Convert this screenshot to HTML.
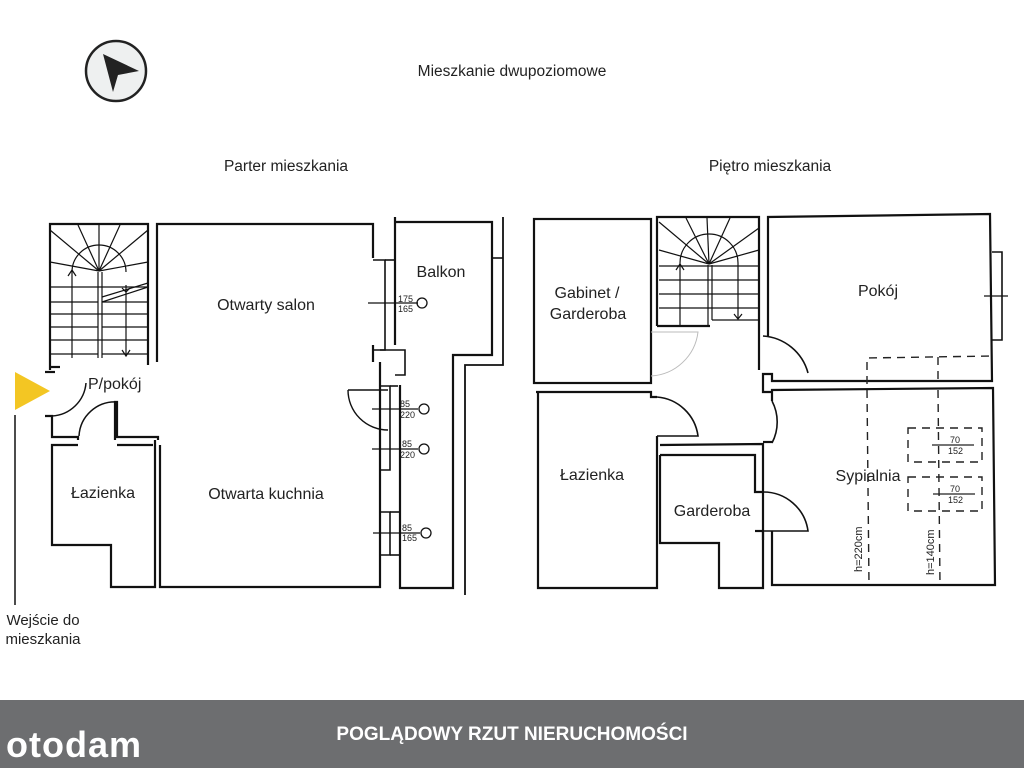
<!DOCTYPE html>
<html><head><meta charset="utf-8"><style>
html,body{margin:0;padding:0;background:#fff;}
svg{display:block;}
text{font-family:"Liberation Sans",sans-serif;fill:#222;}
</style></head><body>
<svg width="1024" height="768" viewBox="0 0 1024 768" xmlns="http://www.w3.org/2000/svg">
<rect width="1024" height="768" fill="#fff"/>
<!-- compass -->
<circle cx="116" cy="71" r="30" fill="#eef0f0" stroke="#222" stroke-width="2.5"/>
<polygon points="103,54 139,71 118,75 113,92" fill="#222"/>
<text x="512" y="76" font-size="15.5" text-anchor="middle">Mieszkanie dwupoziomowe</text>
<text x="286" y="171" font-size="15.5" text-anchor="middle">Parter mieszkania</text>
<text x="770" y="171" font-size="15.5" text-anchor="middle">Piętro mieszkania</text>

<g fill="none" stroke="#111" stroke-width="2.2">
<!-- LEFT stairs -->
<polyline points="50,370 50,224 148,224 148,365"/>
<line x1="50" y1="367" x2="60" y2="367"/>
<path d="M72,272 A27,27 0 0 1 126,272" stroke-width="1.2"/>
<g stroke-width="1.2">
<line x1="99" y1="271" x2="50" y2="230"/><line x1="99" y1="271" x2="78" y2="225"/><line x1="99" y1="271" x2="99" y2="225"/>
<line x1="99" y1="271" x2="120" y2="225"/><line x1="99" y1="271" x2="148" y2="230"/><line x1="99" y1="271" x2="50" y2="262"/><line x1="99" y1="271" x2="148" y2="262"/>
<line x1="50" y1="287" x2="148" y2="287"/><line x1="50" y1="314" x2="148" y2="314"/><line x1="50" y1="340" x2="148" y2="340"/>
<line x1="50" y1="302" x2="98" y2="302"/><line x1="50" y1="327" x2="98" y2="327"/><line x1="50" y1="354" x2="98" y2="354"/>
<line x1="102" y1="302" x2="148" y2="302"/><line x1="102" y1="327" x2="148" y2="327"/><line x1="102" y1="354" x2="148" y2="354"/>
<line x1="72" y1="272" x2="72" y2="358"/><line x1="98" y1="272" x2="98" y2="358"/><line x1="102" y1="272" x2="102" y2="358"/><line x1="126" y1="285" x2="126" y2="355"/>
<line x1="102" y1="302" x2="148" y2="287"/><line x1="102" y1="297" x2="148" y2="283"/>
<polyline points="68,276 72,270 76,276"/><polyline points="122,350 126,356 130,350"/><polyline points="122,288 126,292 130,288"/>
</g>
<!-- main room -->
<polyline points="157,362 157,224 373,224 373,258"/>
<polyline points="373,345 373,362"/>
<polyline points="160,445 160,587 380,587 380,362"/>
<polyline points="373,260 385,260 385,350 373,350" stroke-width="1.6"/>
<polyline points="385,260 395,260 M385,350 395,350" stroke-width="1.6"/>
<polyline points="380,350 405,350 405,375 395,375" stroke-width="1.6"/>
<polyline points="380,386 390,386 390,470 380,470" stroke-width="1.6"/>
<polyline points="380,512 390,512 390,555 380,555" stroke-width="1.6"/>
<line x1="390" y1="386" x2="398" y2="386" stroke-width="1.6"/>
<line x1="390" y1="512" x2="400" y2="512" stroke-width="1.6"/>
<line x1="390" y1="555" x2="400" y2="555" stroke-width="1.6"/>
<!-- balkon -->
<polyline points="395,217 395,345"/>
<polyline points="395,222 492,222 492,355 453,355 453,588 400,588 400,385"/>
<polyline points="492,258 503,258 M492,338 503,338" stroke-width="1.6"/>
<polyline points="503,217 503,365 465,365 465,595" stroke-width="1.8"/>
<!-- entry / hall -->
<line x1="45" y1="372" x2="55" y2="372"/>
<polyline points="45,416 52,416 52,437 78,437 78,440"/>
<path d="M52,416 A36,36 0 0 0 86,383" stroke-width="1.5"/>
<polyline points="115,440 115,402 117,402 117,437 158,437 158,440"/>
<path d="M117,402 A36,36 0 0 0 79,436" stroke-width="1.5"/>
<polyline points="155,440 155,587 111,587 111,545 52,545 52,445 78,445"/>
<polyline points="117,445 153,445"/>
<path d="M348,390 A40,40 0 0 0 388,430" stroke-width="1.4"/>
<line x1="348" y1="390" x2="388" y2="390" stroke-width="1.4"/>
<g stroke-width="1.3">
<line x1="368" y1="303" x2="418" y2="303"/><circle cx="422" cy="303" r="5"/>
<line x1="372" y1="409" x2="418" y2="409"/><circle cx="424" cy="409" r="5"/>
<line x1="372" y1="449" x2="418" y2="449"/><circle cx="424" cy="449" r="5"/>
<line x1="373" y1="533" x2="420" y2="533"/><circle cx="426" cy="533" r="5"/>
</g>

<!-- RIGHT -->
<rect x="534" y="219" width="117" height="164"/>
<polyline points="657,326 657,217 759,217 759,370"/>
<line x1="657" y1="326" x2="710" y2="326"/>
<g stroke-width="1.2">
<path d="M680,263 A28,28 0 0 1 738,263"/>
<line x1="709" y1="264" x2="659" y2="222"/><line x1="709" y1="264" x2="686" y2="218"/><line x1="709" y1="264" x2="707" y2="218"/>
<line x1="709" y1="264" x2="730" y2="218"/><line x1="709" y1="264" x2="759" y2="228"/><line x1="709" y1="264" x2="659" y2="250"/><line x1="709" y1="264" x2="759" y2="250"/>
<line x1="659" y1="266" x2="759" y2="266"/><line x1="659" y1="280" x2="759" y2="280"/><line x1="659" y1="294" x2="759" y2="294"/><line x1="659" y1="308" x2="759" y2="308"/>
<line x1="680" y1="263" x2="680" y2="325"/><line x1="708" y1="265" x2="708" y2="325"/><line x1="712" y1="265" x2="712" y2="320"/><line x1="738" y1="263" x2="738" y2="318"/>
<line x1="712" y1="320" x2="759" y2="320"/>
<polyline points="676,270 680,264 684,270"/><polyline points="734,314 738,319 742,314"/>
</g>
<path d="M651,332 L698,332 A50,50 0 0 1 651,376" stroke="#bbb" stroke-width="1"/>
<polyline points="768,336 768,217 990,214 992,381 772,381 772,374 763,374 763,392 772,392"/>
<path d="M763,336 A50,50 0 0 1 808,373" stroke-width="1.6"/>
<polyline points="992,252 1002,252 1002,340 992,340" stroke-width="1.6"/>
<line x1="984" y1="296" x2="1008" y2="296" stroke-width="1.3"/>
<polyline points="536,392 651,392 651,397 657,397"/>
<polyline points="657,436 657,588 538,588 538,392"/>
<path d="M657,397 A45,45 0 0 1 698,436 L657,436" stroke-width="1.6"/>
<polyline points="660,445 763,444 763,540"/>
<polyline points="660,455 755,455 755,492 763,492"/>
<polyline points="755,531 763,531"/>
<polyline points="660,455 660,543 719,543 719,588 763,588 763,532"/>
<path d="M763,492 A45,45 0 0 1 808,531 L763,531" stroke-width="1.6"/>
<polyline points="772,401 772,390 993,388 995,585 772,585 772,531"/>
<path d="M772,401 A45,45 0 0 1 772,443" stroke-width="1.6"/>
<line x1="763" y1="442" x2="772" y2="442"/>
</g>
<g fill="none" stroke="#222" stroke-width="1.4" stroke-dasharray="8,6">
<polyline points="867,384 867,358 992,356"/>
<line x1="867" y1="390" x2="869" y2="585"/>
<line x1="938" y1="357" x2="938" y2="384"/>
<line x1="938" y1="390" x2="940" y2="585"/>
<rect x="908" y="428" width="74" height="34"/>
<rect x="908" y="477" width="74" height="34"/>
</g>
<g stroke="#222" stroke-width="1.2"><line x1="932" y1="445" x2="974" y2="445"/><line x1="933" y1="494" x2="975" y2="494"/></g>
<g font-size="9">
<text x="398" y="302">175</text><text x="398" y="312">165</text>
<text x="400" y="407">85</text><text x="400" y="418">220</text>
<text x="402" y="447">85</text><text x="400" y="458">220</text>
<text x="402" y="531">85</text><text x="402" y="541">165</text>
<text x="950" y="443">70</text><text x="948" y="454">152</text>
<text x="950" y="492">70</text><text x="948" y="503">152</text>
</g>
<text font-size="11" transform="translate(862,572) rotate(-90)">h=220cm</text>
<text font-size="11" transform="translate(934,575) rotate(-90)">h=140cm</text>

<g font-size="16">
<text x="266" y="310" text-anchor="middle">Otwarty salon</text>
<text x="266" y="499" text-anchor="middle">Otwarta kuchnia</text>
<text x="103" y="498" text-anchor="middle">Łazienka</text>
<text x="88" y="389">P/pokój</text>
<text x="441" y="277" text-anchor="middle">Balkon</text>
<text x="587" y="298" text-anchor="middle">Gabinet /</text>
<text x="588" y="319" text-anchor="middle">Garderoba</text>
<text x="878" y="296" text-anchor="middle">Pokój</text>
<text x="592" y="480" text-anchor="middle">Łazienka</text>
<text x="712" y="516" text-anchor="middle">Garderoba</text>
<text x="868" y="481" text-anchor="middle">Sypialnia</text>
<text x="43" y="625" text-anchor="middle" font-size="15">Wejście do</text>
<text x="43" y="644" text-anchor="middle" font-size="15">mieszkania</text>
</g>
<polygon points="15,372 50,391 15,410" fill="#f3c623"/>
<line x1="15" y1="415" x2="15" y2="605" stroke="#111" stroke-width="1.5"/>

<rect x="0" y="700" width="1024" height="68" fill="#6d6e70"/>
<text x="512" y="740" font-size="19" font-weight="bold" text-anchor="middle" style="fill:#fff">POGLĄDOWY RZUT NIERUCHOMOŚCI</text>
<text x="6" y="757" font-size="36" font-weight="bold" style="fill:#fff;letter-spacing:1px">otodam</text>
</svg>
</body></html>
